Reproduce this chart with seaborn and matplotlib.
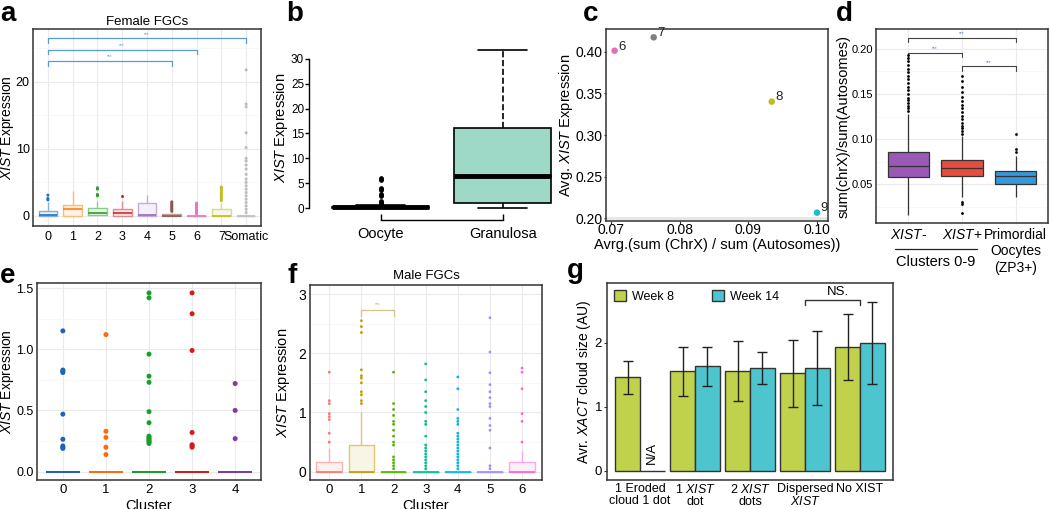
import numpy as np
import pandas as pd
import matplotlib
matplotlib.use("Agg")
import matplotlib.pyplot as plt
import seaborn as sns
from matplotlib.colors import to_rgb
from matplotlib.ticker import MultipleLocator, FormatStrFormatter
from matplotlib.lines import Line2D

W, H = 1050, 509

# ---------------- data ----------------
# a: Female FGCs, box summaries (low whisker, q1, median, q3, high whisker) + outliers
a_groups = ["0", "1", "2", "3", "4", "5", "6", "7", "Somatic"]
a_colors = ["#1f6fc0", "#ff7f0e", "#2ca02c", "#d62728", "#9467bd",
            "#8c564b", "#e377c2", "#bcbd22", "#bdbdbd"]
a_lo = [0, 0, 0.1, 0, 0, 0, 0, 0, 0]
a_q1 = [0.05, 0.05, 0.1, 0.05, 0.05, 0, 0, 0.05, 0]
a_med = [0.1, 1.0, 0.5, 0.45, 0.1, 0.05, 0, 0.05, 0]
a_q3 = [0.8, 1.7, 1.2, 1.1, 1.9, 0.3, 0.05, 1.0, 0]
a_hi = [2.1, 3.7, 2.2, 2.2, 3.2, 0.5, 0.1, 2.0, 0.1]
a_out = [[2.4, 2.6, 3.1], [], [3.0, 3.2, 4.0, 4.2], [3.0], [],
         [0.7, 0.9, 1.1, 1.3, 1.5, 1.7, 1.9, 2.1],
         [0.3, 0.5, 0.7, 0.9, 1.1, 1.3, 1.5, 1.7, 1.9],
         [2.3, 2.6, 2.9, 3.2, 3.5, 3.8, 4.1, 4.3],
         [0.5, 1.0, 1.5, 2.0, 2.5, 3.0, 3.5, 4.0, 4.5, 5.0, 5.5, 6.2, 7.0,
          7.6, 8.2, 8.6, 10.2, 12.4, 16.3, 16.7, 21.8]]
a_pairs = [(0, 5), (0, 6), (0, 8)]
a_bracket_y = [23.1, 24.8, 26.5]

# b: Oocyte vs Granulosa
b_groups = ["Oocyte", "Granulosa"]
b_lo = [0, 0]
b_q1 = [0, 1.0]
b_med = [0.12, 6.5]
b_q3 = [0.3, 16.0]
b_hi = [0.6, 31.8]
b_out = [[0.9, 1.1, 1.3, 1.5, 2.4, 2.6, 2.8, 3.6, 3.8, 4.0, 5.6, 5.8, 6.0], []]

# c: cluster averages
c_labels = ["6", "7", "8", "9"]
c_x = [0.0705, 0.0762, 0.0934, 0.1000]
c_y = [0.401, 0.417, 0.340, 0.207]
c_colors = ["#e36fb6", "#7f7f7f", "#bcbd22", "#17becf"]

# d: X/autosome ratio
d_groups = ["XIST-", "XIST+", "Primordial"]
d_colors = ["#9b59b6", "#e74c3c", "#3498db"]
d_lo = [0.016, 0.036, 0.036]
d_q1 = [0.058, 0.059, 0.051]
d_med = [0.0706, 0.0677, 0.0595]
d_q3 = [0.086, 0.077, 0.065]
d_hi = [0.128, 0.103, 0.081]
d_out = [[0.131, 0.134, 0.137, 0.140, 0.143, 0.146, 0.150, 0.154, 0.158,
          0.162, 0.166, 0.170, 0.174, 0.178, 0.182, 0.186, 0.190, 0.193],
         [0.019, 0.028, 0.031, 0.106, 0.109, 0.112, 0.115, 0.118, 0.122,
          0.126, 0.130, 0.134, 0.138, 0.142, 0.147, 0.152, 0.158, 0.164, 0.170],
         [0.086, 0.089, 0.106]]
d_pairs = [(0, 1), (1, 2), (0, 2)]
d_bracket_y = [0.1953, 0.1804, 0.2119]

# e: clusters 0-4
e_groups = ["0", "1", "2", "3", "4"]
e_colors = ["#1f63b5", "#ff6a10", "#17a02b", "#d7191c", "#7e3ca6"]
e_zero = [0, 0, 0, 0, 0]
e_out = [[1.15, 0.83, 0.82, 0.81, 0.47, 0.265, 0.21, 0.20, 0.19],
         [1.12, 0.33, 0.28, 0.20, 0.14],
         [1.46, 1.42, 0.96, 0.78, 0.73, 0.49, 0.40, 0.29, 0.28, 0.27, 0.26,
          0.25, 0.24, 0.23],
         [1.46, 1.29, 0.99, 0.32, 0.22, 0.21, 0.20],
         [0.72, 0.50, 0.27]]

# f: Male FGCs
f_groups = ["0", "1", "2", "3", "4", "5", "6"]
f_colors = ["#F8766D", "#C49A00", "#53B400", "#00C094", "#00B6EB", "#A58AFF", "#FB61D7"]
f_lo = [0, 0, 0, 0, 0, 0, 0]
f_q1 = [0, 0, 0, 0, 0, 0, 0]
f_med = [0, 0, 0, 0, 0, 0, 0]
f_q3 = [0.17, 0.45, 0, 0, 0, 0, 0.17]
f_hi = [0.4, 1.0, 0, 0, 0, 0, 0.35]
f_out = [[0.5, 0.65, 0.88, 0.93, 0.98, 1.15, 1.2, 1.68],
         [1.15, 1.2, 1.3, 1.35, 1.5, 1.58, 1.62, 1.72, 2.35, 2.45, 2.55],
         [0.05, 0.1, 0.15, 0.2, 0.25, 0.45, 0.5, 0.6, 0.7, 0.8, 0.85, 0.95,
          1.05, 1.15, 1.68],
         [0.05, 0.1, 0.15, 0.2, 0.25, 0.3, 0.35, 0.4, 0.45, 0.6, 0.8, 0.85,
          1.0, 1.1, 1.2, 1.35, 1.55, 1.82],
         [0.05, 0.1, 0.15, 0.2, 0.25, 0.3, 0.35, 0.4, 0.45, 0.5, 0.55, 0.6,
          0.65, 0.8, 0.85, 0.9, 1.05, 1.4, 1.6],
         [0.05, 0.1, 0.4, 0.7, 0.78, 0.9, 1.1, 1.15, 1.25, 1.35, 1.47, 1.67,
          2.02, 2.6],
         [0.5, 0.85, 0.98, 1.4, 1.68, 1.75]]

# g: XACT cloud size
g_groups = ["1 Eroded\ncloud 1 dot", "1 $\\it{XIST}$\ndot", "2 $\\it{XIST}$\ndots",
            "Dispersed\n$\\it{XIST}$", "No XIST"]
g_weeks = ["Week 8", "Week 14"]
g_week8 = [1.46, 1.55, 1.56, 1.52, 1.93]
g_week8_err = [0.26, 0.38, 0.47, 0.52, 0.51]
g_week14 = [0.0, 1.63, 1.60, 1.60, 1.99]
g_week14_err = [np.nan, 0.30, 0.25, 0.58, 0.64]
g_colors = ["#c0d24b", "#4cc5ce"]

# ---------------- style ----------------
sns.set_theme(style="white")
plt.rcParams["font.family"] = ["Liberation Sans", "DejaVu Sans"]
plt.rcParams["mathtext.fontset"] = "custom"
plt.rcParams["mathtext.rm"] = "Liberation Sans"
plt.rcParams["mathtext.it"] = "Liberation Sans:italic"
plt.rcParams["text.color"] = "black"
plt.rcParams["axes.labelcolor"] = "black"
plt.rcParams["xtick.color"] = "black"
plt.rcParams["ytick.color"] = "black"

fig = plt.figure(figsize=(W / 100, H / 100), dpi=100)


def add_ax(box):
    x0, y0, x1, y1 = box
    return fig.add_axes([x0 / W, 1 - y1 / H, (x1 - x0) / W, (y1 - y0) / H])


def place_labels(ax, box, ylab_x=None, xlab_y=None):
    # axis titles centred on pixel spots
    x0, y0, x1, y1 = box
    if ylab_x is not None:
        ax.yaxis.set_label_coords((ylab_x + 7 - x0) / (x1 - x0), 0.5)
    if xlab_y is not None:
        ax.xaxis.set_label_coords(0.5, -(xlab_y - 5.5 - y1) / (y1 - y0))


def blend(c, t):
    r, g, b = to_rgb(c)
    return (r + (1 - r) * t, g + (1 - g) * t, b + (1 - b) * t)


def box_frame(groups, lo, q1, med, q3, hi):
    rows = []
    for g, *vals in zip(groups, lo, q1, med, q3, hi):
        rows += [(g, v) for v in vals]
    return pd.DataFrame(rows, columns=["group", "value"])


def out_frame(groups, outs):
    rows = [(g, v) for g, vs in zip(groups, outs) for v in vs]
    return pd.DataFrame(rows, columns=["group", "value"])


def gg_style(ax, ytick_size=9.5, xtick_size=9.5, ypad=0.8, xpad=2):
    for s in ax.spines.values():
        s.set_color("#333333")
        s.set_linewidth(1.1)
    ax.tick_params(length=1.8, width=0.8, color="#333333")
    ax.tick_params(axis="y", labelsize=ytick_size, pad=ypad)
    ax.tick_params(axis="x", labelsize=xtick_size, pad=xpad)
    ax.tick_params(which="minor", length=0)
    ax.set_axisbelow(True)
    ax.grid(which="major", color="#ebebeb", lw=0.8)
    ax.grid(which="minor", axis="y", color="#f5f5f5", lw=0.5)


def gg_boxes(ax, stats, outs, order, colors, width, dot, light=True, lw=1.0):
    pal = dict(zip(order, colors))
    common = dict(data=stats, x="group", y="value", hue="group", order=order,
                  whis=(0, 100), width=width, showcaps=False, showfliers=False,
                  legend=False, ax=ax)
    if light:
        sns.boxplot(palette={g: blend(c, 0.9) for g, c in pal.items()},
                    saturation=1, linewidth=0, **common)
        sns.boxplot(palette={g: blend(c, 0.45) for g, c in pal.items()},
                    fill=False, linewidth=lw, medianprops=dict(visible=False), **common)
        sns.boxplot(palette=pal, fill=False, linewidth=lw + 0.2,
                    boxprops=dict(visible=False), whiskerprops=dict(visible=False),
                    **common)
    else:
        sns.boxplot(palette=pal, fill=False, linewidth=lw, **common)
    if len(outs):
        sns.stripplot(data=outs, x="group", y="value", hue="group", order=order,
                      palette=pal, jitter=False, size=dot, linewidth=0,
                      legend=False, ax=ax)


def bracket(ax, x0, x1, y, tip, color, lw=0.9):
    ax.plot([x0, x0, x1, x1], [y - tip, y, y, y - tip], color=color, lw=lw,
            clip_on=False)


xist_label = "$\\it{XIST}$ Expression"

# ---------------- a ----------------
box_a = (33, 29, 261, 226)
ax = add_ax(box_a)
gg_boxes(ax, box_frame(a_groups, a_lo, a_q1, a_med, a_q3, a_hi),
         out_frame(a_groups, a_out), a_groups, a_colors, 0.75, 2.2)
gg_style(ax, ytick_size=9, xtick_size=9, ypad=0.5)
ax.set_xlim(-0.6, 8.6)
ax.set_ylim(-1.5, 27.9)
ax.yaxis.set_major_locator(MultipleLocator(10))
ax.yaxis.set_minor_locator(MultipleLocator(5))
for (i, j), y in zip(a_pairs, a_bracket_y):
    bracket(ax, i, j, y, 0.7, "#5b9bd5")
    ax.text((i + j) / 2, y + 0.25, "***", ha="center", va="bottom", fontsize=3.5,
            color="#5b9bd5")
ax.set_xlabel("")
ax.set_ylabel(xist_label, fontsize=10)
place_labels(ax, box_a, ylab_x=8.9)
ax.set_title("Female FGCs", fontsize=9.5, pad=3)

# ---------------- b ----------------
box_b = (309, 35, 560, 220)
ax = add_ax(box_b)
b_pal = {"Oocyte": "#9ed9c8", "Granulosa": "#9ed9c8"}
sns.boxplot(data=box_frame(b_groups, b_lo, b_q1, b_med, b_q3, b_hi), x="group",
            y="value", hue="group", order=b_groups, palette=b_pal, saturation=1,
            linecolor="black", linewidth=1.2, whis=(0, 100), width=0.8,
            showfliers=False, legend=False, whiskerprops=dict(linestyle="--"),
            medianprops=dict(linewidth=3.5), ax=ax)
sns.stripplot(data=out_frame(b_groups, b_out), x="group", y="value", order=b_groups,
              color="black", jitter=False, size=3.4, linewidth=0, ax=ax)
ax.set_xlim(-0.588, 1.47)
ax.set_ylim(-2.4, 34.8)
for s in ["top", "right"]:
    ax.spines[s].set_visible(False)
ax.spines["left"].set_bounds(0, 30)
ax.spines["bottom"].set_bounds(0, 1)
for s in ["left", "bottom"]:
    ax.spines[s].set_color("black")
    ax.spines[s].set_linewidth(1.0)
ax.yaxis.set_major_locator(MultipleLocator(5))
ax.tick_params(axis="y", length=3, width=1, color="black", labelsize=8.5, pad=0.5,
               left=True)
ax.tick_params(axis="x", direction="in", length=4, width=1, color="black",
               labelsize=10.5, pad=5, bottom=True)
ax.set_xlabel("")
ax.set_ylabel(xist_label, fontsize=10.5)
place_labels(ax, box_b, ylab_x=283)

# ---------------- c ----------------
box_c = (606, 29, 828, 221)
ax = add_ax(box_c)
sns.scatterplot(x=c_x, y=c_y, hue=c_labels, palette=c_colors, s=22, linewidth=0,
                legend=False, ax=ax)
for lab, x, y in zip(c_labels, c_x, c_y):
    ax.annotate(lab, (x, y), xytext=(2.5, 3), textcoords="offset points",
                fontsize=9.5, ha="left", va="center", color="#222222")
ax.axhline(0.2, color="#e6e6e6", lw=2, zorder=0)
ax.set_xlim(0.06925, 0.1016)
ax.set_ylim(0.197, 0.427)
ax.xaxis.set_major_locator(MultipleLocator(0.01))
ax.yaxis.set_major_locator(MultipleLocator(0.05))
ax.xaxis.set_major_formatter(FormatStrFormatter("%.2f"))
ax.yaxis.set_major_formatter(FormatStrFormatter("%.2f"))
for s in ax.spines.values():
    s.set_color("#333333")
    s.set_linewidth(1.1)
ax.tick_params(length=1.8, width=0.8, color="#333333", labelsize=10,
               left=True, bottom=True)
ax.tick_params(axis="x", pad=0)
ax.tick_params(axis="y", pad=0.6)
ax.set_xlabel("Avrg.(sum (ChrX) / sum (Autosomes))", fontsize=10.5)
ax.set_ylabel("Avg. $\\it{XIST}$ Expression", fontsize=10.5)
place_labels(ax, box_c, ylab_x=568, xlab_y=243)

# ---------------- d ----------------
box_d = (876, 29, 1048, 223)
ax = add_ax(box_d)
d_pal = dict(zip(d_groups, d_colors))
sns.boxplot(data=box_frame(d_groups, d_lo, d_q1, d_med, d_q3, d_hi), x="group",
            y="value", hue="group", order=d_groups, palette=d_pal, saturation=1,
            linecolor="#333333", linewidth=0.9, whis=(0, 100), width=0.77,
            showfliers=False, showcaps=False, legend=False, ax=ax)
sns.stripplot(data=out_frame(d_groups, d_out), x="group", y="value", order=d_groups,
              color="black", jitter=False, size=2, linewidth=0, ax=ax)
gg_style(ax, ytick_size=8, ypad=0.5)
ax.set_xlim(-0.6, 2.6)
ax.set_ylim(0.0074, 0.2218)
ax.yaxis.set_major_locator(MultipleLocator(0.05))
ax.yaxis.set_minor_locator(MultipleLocator(0.025))
ax.yaxis.set_major_formatter(FormatStrFormatter("%.2f"))
for (i, j), y in zip(d_pairs, d_bracket_y):
    bracket(ax, i, j, y, 0.0045, "#444444", lw=0.8)
    ax.text((i + j) / 2, y + 0.002, "***", ha="center", va="bottom", fontsize=3.5,
            color="#5b7bb5")
ax.set_xticks(range(3))
ax.set_xticklabels(["$\\it{XIST}$-", "$\\it{XIST}$+", "Primordial\nOocytes\n(ZP3+)"],
                   fontsize=10, va="top")
ax.tick_params(axis="x", pad=2)
ax.set_xlabel("")
ax.set_ylabel("sum(chrX)/sum(Autosomes)", fontsize=10.5)
place_labels(ax, box_d, ylab_x=844)
fig.add_artist(Line2D([895 / W, 977 / W], [1 - 249 / H, 1 - 249 / H], color="#222222",
                      lw=0.9))
fig.text(936 / W, 1 - 262 / H, "Clusters 0-9", ha="center", va="center", fontsize=10.5)

# ---------------- e ----------------
box_e = (37, 283, 261, 480)
ax = add_ax(box_e)
gg_boxes(ax, box_frame(e_groups, e_zero, e_zero, e_zero, e_zero, e_zero),
         out_frame(e_groups, e_out), e_groups, e_colors, 0.75, 3.6, light=False, lw=1.3)
gg_style(ax, ytick_size=9, xtick_size=9.5, ypad=0.5, xpad=1)
ax.set_xlim(-0.6, 4.6)
ax.set_ylim(-0.068, 1.541)
ax.yaxis.set_major_locator(MultipleLocator(0.5))
ax.yaxis.set_minor_locator(MultipleLocator(0.25))
ax.yaxis.set_major_formatter(FormatStrFormatter("%.1f"))
ax.set_xlabel("Cluster", fontsize=10.5)
ax.set_ylabel(xist_label, fontsize=10)
place_labels(ax, box_e, ylab_x=9.2, xlab_y=504.5)

# ---------------- f ----------------
box_f = (310, 285, 542, 480)
ax = add_ax(box_f)
gg_boxes(ax, box_frame(f_groups, f_lo, f_q1, f_med, f_q3, f_hi),
         out_frame(f_groups, f_out), f_groups, f_colors, 0.8, 2.0)
gg_style(ax, ytick_size=10, xtick_size=9.5, xpad=1)
ax.set_xlim(-0.6, 6.62)
ax.set_ylim(-0.14, 3.152)
ax.yaxis.set_major_locator(MultipleLocator(1))
ax.yaxis.set_minor_locator(MultipleLocator(0.5))
bracket(ax, 1, 2, 2.73, 0.1, "#d8c08a")
ax.text(1.5, 2.78, "***", ha="center", va="bottom", fontsize=3.5, color="#c8a870")
ax.set_title("Male FGCs", fontsize=9.5, pad=4)
ax.set_xlabel("Cluster", fontsize=10.5)
ax.set_ylabel(xist_label, fontsize=10.5)
place_labels(ax, box_f, ylab_x=285, xlab_y=504.5)

# ---------------- g ----------------
box_g = (607, 283, 893, 480)
ax = add_ax(box_g)
g_df = pd.DataFrame({
    "group": g_groups * 2,
    "week": [g_weeks[0]] * 5 + [g_weeks[1]] * 5,
    "value": g_week8 + g_week14,
})
sns.barplot(data=g_df, x="group", y="value", hue="week", order=g_groups,
            hue_order=g_weeks, palette=g_colors, saturation=1, width=0.9,
            errorbar=None, edgecolor="#333333", linewidth=1, ax=ax)
bars = sorted([p for cont in ax.containers for p in cont.patches],
              key=lambda p: p.get_x())
errs = [e for pair in zip(g_week8_err, g_week14_err) for e in pair]
for p, e in zip(bars, errs):
    if np.isnan(e):
        continue
    ax.errorbar(p.get_x() + p.get_width() / 2, p.get_height(), yerr=e, fmt="none",
                ecolor="#222222", elinewidth=1, capsize=3.5, capthick=1)
na_bar = bars[1]
ax.text(na_bar.get_x() + na_bar.get_width() / 2, 0.1, "N/A", rotation=90,
        ha="center", va="bottom", fontsize=9.5)
bracket(ax, 3, 4, 2.67, 0.08, "#333333", lw=1)
ax.text(3.6, 2.69, "NS.", ha="center", va="bottom", fontsize=9.5)
handles, labels = ax.get_legend_handles_labels()
ax.legend(handles, labels, loc="upper left", ncol=2, frameon=False, fontsize=9,
          handlelength=0.96, handleheight=0.96, handletextpad=0.48,
          columnspacing=3.06, borderaxespad=0.3, borderpad=0.25)
for s in ax.spines.values():
    s.set_color("#333333")
    s.set_linewidth(1.1)
ax.set_xlim(-0.6, 4.6)
ax.set_ylim(-0.145, 2.93)
ax.yaxis.set_major_locator(MultipleLocator(1))
ax.tick_params(length=2, width=0.8, color="#333333", labelsize=9.5, pad=1.5,
               left=True, bottom=False)
ax.tick_params(axis="x", pad=0.5)
ax.set_xticks(range(5))
ax.set_xticklabels(g_groups, fontsize=9)
for t in ax.get_xticklabels():
    t.set_linespacing(1.0)
ax.set_xlabel("")
ax.set_ylabel("Avr. $\\it{XACT}$ cloud size (AU)", fontsize=10)
place_labels(ax, box_g, ylab_x=586)

# ---------------- panel letters ----------------
letters = ["a", "b", "c", "d", "e", "f", "g"]
letter_pos = [(0, 21), (286, 21), (583, 21), (836, 21), (0, 283), (287, 283), (567, 278)]
for lt, (x, y) in zip(letters, letter_pos):
    fig.text(x / W, 1 - y / H, lt, fontsize=20, fontweight="bold", ha="left",
             va="baseline")

fig.savefig("out.png", dpi=100)
